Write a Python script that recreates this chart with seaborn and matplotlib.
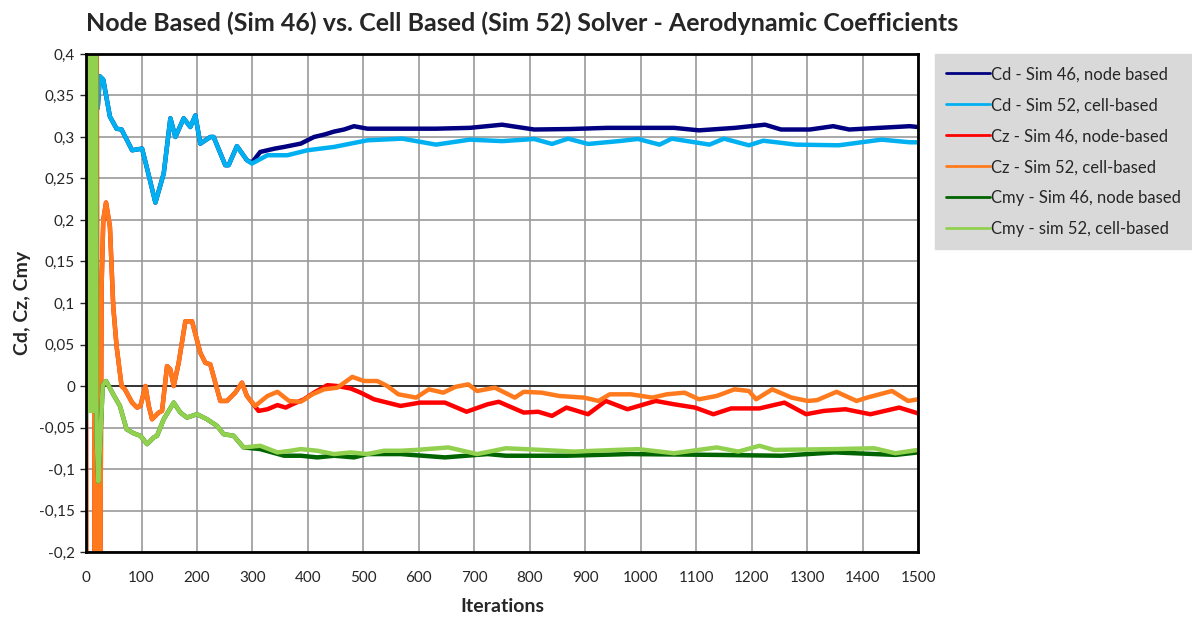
import numpy as np
import pandas as pd
import seaborn as sns
import matplotlib.pyplot as plt
from matplotlib.ticker import FuncFormatter, MultipleLocator

# Cd - parte comum (Sim 46 e Sim 52 iguais ate ~290 iteracoes)
cd_early_iter = [21, 25, 31, 43, 55, 64, 83, 101, 110, 125, 140, 152, 161, 176, 188, 197,
                 206, 224, 230, 251, 257, 272, 290]
cd_early = [0.335, 0.373, 0.369, 0.3245, 0.310, 0.309, 0.284, 0.286, 0.262, 0.221, 0.256,
            0.3225, 0.300, 0.3225, 0.312, 0.326, 0.292, 0.300, 0.300, 0.266, 0.266, 0.289, 0.272]

cd46_iter = [299, 314, 340, 357, 387, 411, 430, 447, 465, 483, 507, 567, 631, 692, 750, 808,
             873, 940, 1000, 1060, 1105, 1170, 1224, 1253, 1305, 1347, 1376, 1430, 1485, 1500]
cd46 = [0.269, 0.282, 0.286, 0.288, 0.292, 0.300, 0.303, 0.3065, 0.309, 0.313, 0.310, 0.310,
        0.310, 0.311, 0.3148, 0.309, 0.3096, 0.311, 0.311, 0.311, 0.308, 0.311, 0.3148, 0.309,
        0.309, 0.313, 0.309, 0.311, 0.313, 0.312]

cd52_iter = [299, 327, 363, 399, 447, 507, 570, 631, 692, 750, 808, 840, 869, 905, 960, 995,
             1034, 1056, 1124, 1150, 1195, 1221, 1280, 1357, 1434, 1485, 1500]
cd52 = [0.268, 0.278, 0.278, 0.284, 0.288, 0.296, 0.298, 0.2908, 0.2968, 0.295, 0.2976,
        0.2916, 0.298, 0.2916, 0.295, 0.2976, 0.2908, 0.298, 0.2908, 0.298, 0.290, 0.2955,
        0.2908, 0.290, 0.2968, 0.2936, 0.2936]

# Cz - parte comum
cz_early_iter = [0, 1, 14, 17, 19, 21, 24, 28, 31, 36, 43, 49, 55, 64, 70, 83, 92, 98, 107,
                 113, 119, 131, 137, 146, 152, 158, 167, 179, 191, 206, 215, 224, 242, 254,
                 269, 281, 290]
cz_early = [-0.041, -0.6, -0.6, 0.6, 0.6, -0.5, -0.5, 0.12, 0.2, 0.221, 0.192, 0.096, 0.048,
            0.0, -0.004, -0.02, -0.026, -0.024, 0.0, -0.024, -0.04, -0.032, -0.03, 0.024,
            0.02, 0.0, 0.028, 0.078, 0.078, 0.04, 0.028, 0.026, -0.018, -0.018, -0.008,
            0.004, -0.012]

cz46_iter = [311, 327, 345, 360, 372, 393, 411, 435, 453, 477, 495, 519, 543, 567, 602, 647,
             686, 724, 744, 789, 815, 840, 866, 905, 937, 976, 1027, 1060, 1098, 1131, 1163,
             1214, 1259, 1298, 1330, 1369, 1414, 1466, 1500]
cz46 = [-0.03, -0.028, -0.023, -0.026, -0.022, -0.016, -0.008, 0.001, 0.0, -0.003, -0.008,
        -0.016, -0.02, -0.024, -0.02, -0.02, -0.031, -0.022, -0.019, -0.032, -0.031, -0.036,
        -0.026, -0.034, -0.018, -0.028, -0.018, -0.022, -0.026, -0.034, -0.027, -0.027,
        -0.02, -0.034, -0.03, -0.028, -0.034, -0.026, -0.033]

cz52_iter = [305, 327, 345, 366, 387, 408, 429, 453, 480, 501, 525, 543, 563, 595, 618, 644,
             666, 689, 705, 737, 773, 789, 821, 853, 898, 924, 944, 982, 1021, 1047, 1079,
             1105, 1137, 1169, 1195, 1208, 1237, 1272, 1301, 1318, 1353, 1389, 1408, 1453,
             1482, 1500]
cz52 = [-0.024, -0.012, -0.007, -0.018, -0.019, -0.01, -0.004, -0.002, 0.011, 0.006, 0.006,
        0.0, -0.01, -0.014, -0.004, -0.008, -0.001, 0.002, -0.006, -0.002, -0.014, -0.007,
        -0.008, -0.012, -0.014, -0.018, -0.01, -0.01, -0.014, -0.01, -0.008, -0.016, -0.012,
        -0.004, -0.006, -0.016, -0.004, -0.014, -0.018, -0.017, -0.007, -0.018, -0.014,
        -0.006, -0.018, -0.016]

# Cmy - parte comum
cmy_early_iter = [0, 1, 3, 5, 7, 9, 11, 13, 15, 17, 19, 22, 26, 30, 34, 36, 49, 61, 73, 86,
                  98, 110, 122, 128, 140, 158, 170, 182, 200, 218, 236, 248, 266, 284]
cmy_early = [-0.04, 0.9, -0.03, 0.9, -0.03, 0.9, -0.03, 0.9, -0.03, 0.9, -0.06, -0.115,
             -0.06, 0.0, 0.005, 0.006, -0.01, -0.024, -0.052, -0.057, -0.06, -0.07, -0.062,
             -0.06, -0.04, -0.02, -0.032, -0.038, -0.034, -0.04, -0.048, -0.058, -0.06, -0.074]

cmy46_iter = [314, 357, 387, 417, 447, 483, 507, 567, 647, 724, 757, 866, 982, 1137, 1253,
              1350, 1459, 1500]
cmy46 = [-0.076, -0.084, -0.084, -0.086, -0.084, -0.086, -0.082, -0.082, -0.086, -0.082,
         -0.084, -0.084, -0.082, -0.083, -0.084, -0.08, -0.083, -0.08]

cmy52_iter = [314, 345, 369, 387, 417, 447, 477, 507, 537, 567, 595, 653, 705, 757, 821, 879,
              995, 1060, 1137, 1176, 1214, 1240, 1350, 1421, 1459, 1500]
cmy52 = [-0.072, -0.08, -0.078, -0.076, -0.078, -0.082, -0.08, -0.082, -0.078, -0.078, -0.077,
         -0.074, -0.082, -0.075, -0.077, -0.079, -0.076, -0.081, -0.074, -0.079, -0.072,
         -0.077, -0.076, -0.075, -0.081, -0.077]

series = [
    ('Cd - Sim 46, node based', cd_early_iter + cd46_iter, cd_early + cd46, '#000080'),
    ('Cd - Sim 52, cell-based', cd_early_iter + cd52_iter, cd_early + cd52, '#00b0f0'),
    ('Cz - Sim 46, node-based', cz_early_iter + cz46_iter, cz_early + cz46, '#ff0000'),
    ('Cz - Sim 52, cell-based', cz_early_iter + cz52_iter, cz_early + cz52, '#ff7a1c'),
    ('Cmy - Sim 46, node based', cmy_early_iter + cmy46_iter, cmy_early + cmy46, '#006400'),
    ('Cmy - sim 52, cell-based', cmy_early_iter + cmy52_iter, cmy_early + cmy52, '#92d050'),
]

sns.set_theme(style='white')
plt.rcParams['font.family'] = ['Lato', 'DejaVu Sans']

fig = plt.figure(figsize=(11.92, 6.19), dpi=100)
ax = fig.add_axes([0.0722, 0.1082, 0.6980, 0.8046])

for nome, xs, ys, cor in series:
    df = pd.DataFrame({'iter': xs, 'valor': ys})
    sns.lineplot(data=df, x='iter', y='valor', ax=ax, color=cor, linewidth=3.2,
                 estimator=None, sort=False, label=nome, legend=False)

ax.set_xlim(0, 1500)
ax.set_ylim(-0.2, 0.4)
ax.xaxis.set_major_locator(MultipleLocator(100))
ax.yaxis.set_major_locator(MultipleLocator(0.05))
ax.yaxis.set_major_formatter(FuncFormatter(lambda v, p: ('%g' % round(v, 2)).replace('.', ',')))
ax.grid(True, color='#9a9a9a', linewidth=1.2)
ax.set_axisbelow(True)
ax.axhline(0, color='#222222', linewidth=1.2, zorder=1.5)

for s in ax.spines.values():
    s.set_color('black')
    s.set_linewidth(2)

ax.tick_params(axis='y', which='major', left=True, length=4, width=1, labelsize=11, pad=4)
ax.tick_params(axis='x', which='major', bottom=False, labelsize=11, pad=8)

ax.set_title('Node Based (Sim 46) vs. Cell Based (Sim 52) Solver - Aerodynamic Coefficients',
             fontsize=18, fontweight='bold', loc='left', x=0.0, y=1.03)
ax.set_xlabel('Iterations', fontsize=14, fontweight='bold', labelpad=9)
ax.set_ylabel('Cd, Cz, Cmy', fontsize=14, fontweight='bold', labelpad=6)

handles, labels = ax.get_legend_handles_labels()
leg = fig.legend(handles, labels, loc='upper left', bbox_to_anchor=(0.784, 0.912),
                 fontsize=12, frameon=True, fancybox=False, facecolor='#d9d9d9',
                 edgecolor='#d9d9d9', framealpha=1, handlelength=2.6, handletextpad=0.1,
                 labelspacing=0.9, borderpad=0.7, borderaxespad=0)
for linha in leg.get_lines():
    linha.set_linewidth(2)

fig.savefig('out.png', dpi=100)
